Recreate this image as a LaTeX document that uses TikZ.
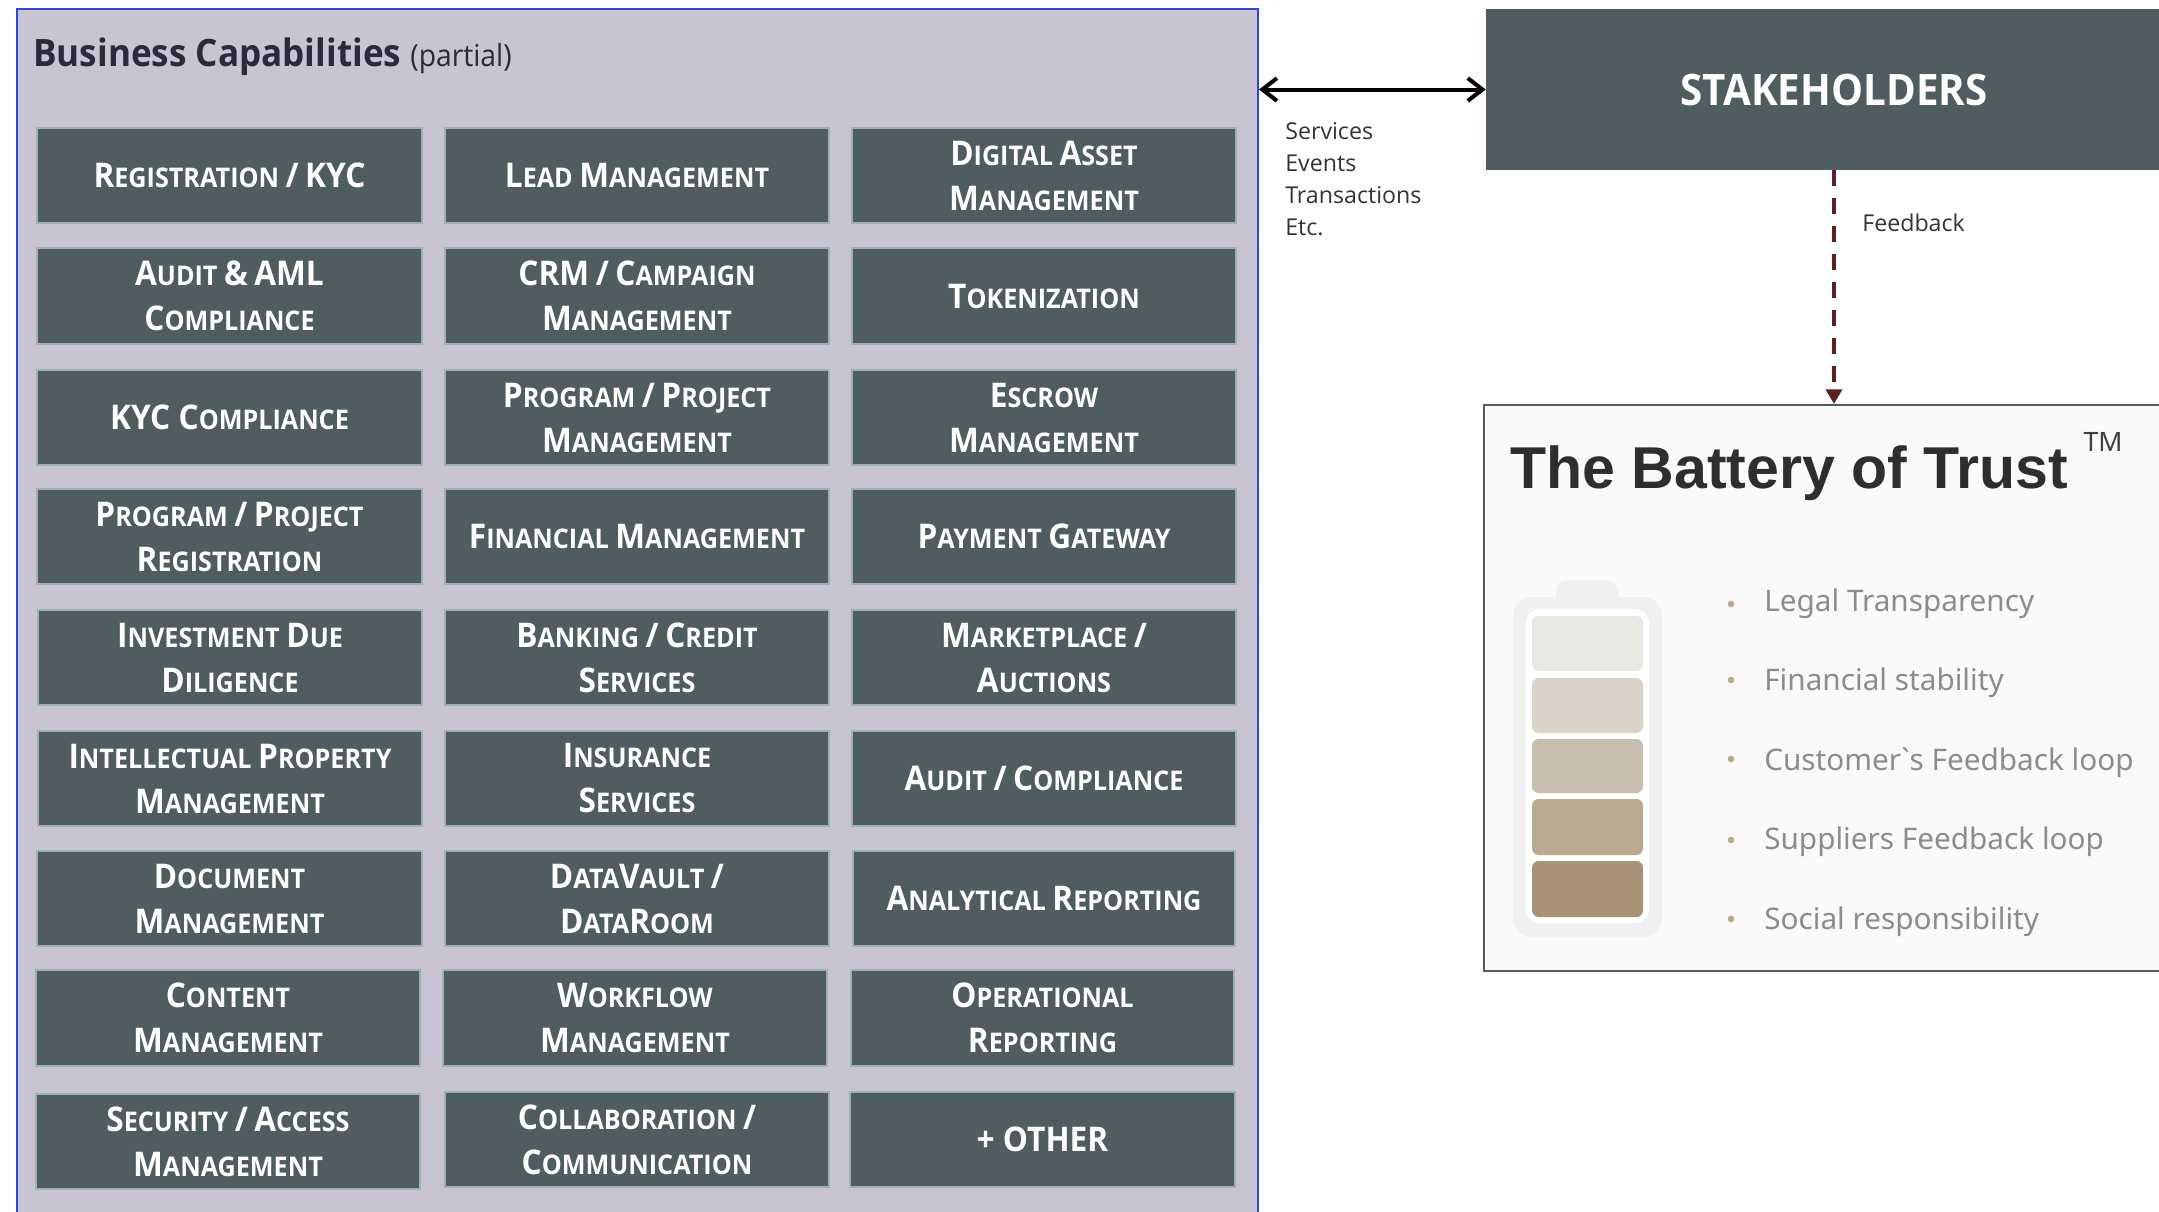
\documentclass[tikz,border=0pt]{standalone}
\usepackage{fontspec}
\setmainfont{Open Sans}
\newfontfamily\headfont{Open Sans}[FakeStretch=0.93]
\newfontfamily\capfont{Open Sans}[BoldFont={Open Sans Bold},BoldFeatures={FakeStretch=0.93}]
\newfontfamily\robofont{Noto Sans}
\newfontfamily\robobold{Liberation Sans Bold}
\usetikzlibrary{arrows.meta}
\definecolor{panelfill}{HTML}{C8C4D4}
\definecolor{panelline}{HTML}{3347BE}
\definecolor{slate}{HTML}{4F5D60}
\definecolor{slateline}{HTML}{9FB0B2}
\definecolor{dark}{HTML}{2A2A3A}
\definecolor{fb}{HTML}{5E2020}
\definecolor{cellA}{HTML}{E9E7E1}
\definecolor{cellB}{HTML}{DAD4C8}
\definecolor{cellC}{HTML}{C8BEAE}
\definecolor{cellD}{HTML}{B8A990}
\definecolor{cellE}{HTML}{A69378}
\definecolor{listgrey}{HTML}{8C8C8C}
\newcommand\bg[1]{{\fontsize{25.5}{33.75}\selectfont #1}}
\tikzset{
  capbox/.style={draw=slateline,line width=1.5pt,fill=slate,text=white,inner sep=0pt,align=center,
    font=\capfont\bfseries\fontsize{20.3}{33.75}\selectfont},
  smalltxt/.style={anchor=west,inner sep=0pt,text=black!80,font=\fontsize{17.4}{24}\selectfont},
  listtxt/.style={anchor=west,inner sep=0pt,text=listgrey,font=\robofont\fontsize{22.3}{28}\selectfont},
  bulletdot/.style={circle,fill=#1,inner sep=0pt,minimum size=5pt},
  cell/.style={rounded corners=5pt},
}
\newcommand\capbox[6]{\node[capbox,minimum width={(#4-#2)*0.75pt},minimum height={(#5-#3)*0.75pt}] (#1) at ({(#2+#4)/2},{(#3+#5)/2}) {#6};}
\begin{document}
\begin{tikzpicture}[x=0.75pt,y=-0.75pt]
\useasboundingbox (0,0) rectangle (2159,1211);
\clip (0,0) rectangle (2159,1211);
% panel
\node[draw=panelline,fill=panelfill,line width=1.5pt,inner sep=0pt,minimum width={1241*0.75pt},minimum height={1215*0.75pt}] (panel) at ({(17+1258)/2},{9+607.5}) {};
\node[anchor=base west,inner sep=0pt,text=dark,font=\fontsize{28}{34}\selectfont] (paneltitle) at (33,66)
  {\capfont\bfseries\fontsize{28.3}{34}\selectfont Business Capabilities \headfont\mdseries\fontsize{22.8}{34}\selectfont(partial)};
% row 1
\capbox{a1}{37}{128}{422}{223}{\bg{R}EGISTRATION \bg{/} \bg{KYC}}
\capbox{b1}{445}{128}{829}{223}{\bg{L}EAD \bg{M}ANAGEMENT}
\capbox{c1}{852}{128}{1236}{223}{\bg{D}IGITAL \bg{A}SSET\\\bg{M}ANAGEMENT}
% row 2
\capbox{a2}{37}{248}{422}{344}{\bg{A}UDIT \bg{\&} \bg{AML}\\\bg{C}OMPLIANCE}
\capbox{b2}{445}{248}{829}{344}{\bg{CRM} \bg{/} \bg{C}AMPAIGN\\\bg{M}ANAGEMENT}
\capbox{c2}{852}{248}{1236}{344}{\bg{T}OKENIZATION}
% row 3
\capbox{a3}{37}{370}{422}{465}{\bg{KYC C}OMPLIANCE}
\capbox{b3}{445}{370}{829}{465}{\bg{P}ROGRAM \bg{/} \bg{P}ROJECT\\\bg{M}ANAGEMENT}
\capbox{c3}{852}{370}{1236}{465}{\bg{E}SCROW\\\bg{M}ANAGEMENT}
% row 4
\capbox{a4}{37}{489}{422}{584}{\bg{P}ROGRAM \bg{/} \bg{P}ROJECT\\\bg{R}EGISTRATION}
\capbox{b4}{445}{489}{829}{584}{\bg{F}INANCIAL \bg{M}ANAGEMENT}
\capbox{c4}{852}{489}{1236}{584}{\bg{P}AYMENT \bg{G}ATEWAY}
% row 5
\capbox{a5}{38}{610}{422}{705}{\bg{I}NVESTMENT \bg{D}UE\\\bg{D}ILIGENCE}
\capbox{b5}{445}{610}{829}{705}{\bg{B}ANKING \bg{/} \bg{C}REDIT\\\bg{S}ERVICES}
\capbox{c5}{852}{610}{1236}{705}{\bg{M}ARKETPLACE \bg{/}\\\bg{A}UCTIONS}
% row 6
\capbox{a6}{38}{731}{422}{826}{\bg{I}NTELLECTUAL \bg{P}ROPERTY\\\bg{M}ANAGEMENT}
\capbox{b6}{445}{731}{829}{826}{\bg{I}NSURANCE\\\bg{S}ERVICES}
\capbox{c6}{852}{731}{1236}{826}{\bg{A}UDIT \bg{/} \bg{C}OMPLIANCE}
% row 7
\capbox{a7}{37}{851}{422}{946}{\bg{D}OCUMENT\\\bg{M}ANAGEMENT}
\capbox{b7}{445}{851}{829}{946}{\bg{D}ATA\bg{V}AULT \bg{/}\\\bg{D}ATA\bg{R}OOM}
\capbox{c7}{853}{851}{1235}{946}{\bg{A}NALYTICAL \bg{R}EPORTING}
% row 8
\capbox{a8}{36}{970}{420}{1066}{\bg{C}ONTENT\\\bg{M}ANAGEMENT}
\capbox{b8}{443}{970}{827}{1066}{\bg{W}ORKFLOW\\\bg{M}ANAGEMENT}
\capbox{c8}{851}{970}{1234}{1066}{\bg{O}PERATIONAL\\\bg{R}EPORTING}
% row 9
\capbox{a9}{36}{1094}{420}{1189}{\bg{S}ECURITY \bg{/} \bg{A}CCESS\\\bg{M}ANAGEMENT}
\capbox{b9}{445}{1092}{829}{1187}{\bg{C}OLLABORATION \bg{/}\\\bg{C}OMMUNICATION}
\capbox{c9}{850}{1092}{1235}{1187}{\bg{+ OTHER}}
% stakeholders
\node[fill=slate,text=white,inner sep=0pt,minimum width={696*0.75pt},minimum height={161*0.75pt},font=\capfont\bfseries\fontsize{32.5}{36}\selectfont] (stake) at (1834,89.5) {STAKEHOLDERS};
% battery panel
\node[draw=slate,fill=black!2,line width=1.5pt,inner sep=0pt,minimum width={700*0.75pt},minimum height={566*0.75pt}] (trust) at (1834,688) {};
\node[anchor=base west,inner sep=0pt,text=black!82,font=\robobold\fontsize{44.3}{50}\selectfont] (trusttitle) at (1510,488) {The Battery of Trust};
\node[anchor=center,inner sep=0pt,text=black!75,font=\robofont\fontsize{20}{24}\selectfont] (tm) at (2103,442) {TM};
% connectors
\draw[{Straight Barb[length=11pt,width=17pt,line width=3pt]}-{Straight Barb[length=11pt,width=17pt,line width=3pt]},line width=3pt,black] (panel.east |- stake.west) -- (stake.west);
\draw[fb,line width=3pt,dash pattern=on 12pt off 9pt,-{Triangle[length=11pt,width=12pt,fb]}] (stake.south) -- (trust.north);
% labels
\node[smalltxt] (l1) at (1285,131) {Services};
\node[smalltxt] (l2) at (1285,163.5) {Events};
\node[smalltxt] (l3) at (1285,195) {Transactions};
\node[smalltxt] (l4) at (1285,227) {Etc.};
\node[smalltxt] (l5) at (1862,223) {Feedback};
% battery drawing
\fill[black!6,rounded corners=9pt] (1556,580) rectangle (1618,625);
\fill[black!6,rounded corners=14pt] (1513,597) rectangle (1662,937);
\fill[white,rounded corners=10pt] (1526,609) rectangle (1649,923);
\fill[cellA,cell] (1532,616) rectangle (1643,671);
\fill[cellB,cell] (1532,678) rectangle (1643,733);
\fill[cellC,cell] (1532,739) rectangle (1643,793);
\fill[cellD,cell] (1532,799) rectangle (1643,855);
\fill[cellE,cell] (1532,861) rectangle (1643,917);
% list
\node[bulletdot=cellD] (d1) at (1731,604) {};
\node[bulletdot=cellD] (d2) at (1731,680) {};
\node[bulletdot=cellD] (d3) at (1731,759) {};
\node[bulletdot=cellD] (d4) at (1731,840) {};
\node[bulletdot=cellD] (d5) at (1731,919) {};
\node[listtxt] (t1) at (1764,604) {Legal Transparency};
\node[listtxt] (t2) at (1764,683) {Financial stability};
\node[listtxt] (t3) at (1764,763) {Customer`s Feedback loop};
\node[listtxt] (t4) at (1764,842) {Suppliers Feedback loop};
\node[listtxt] (t5) at (1764,922) {Social responsibility};
\end{tikzpicture}
\end{document}
